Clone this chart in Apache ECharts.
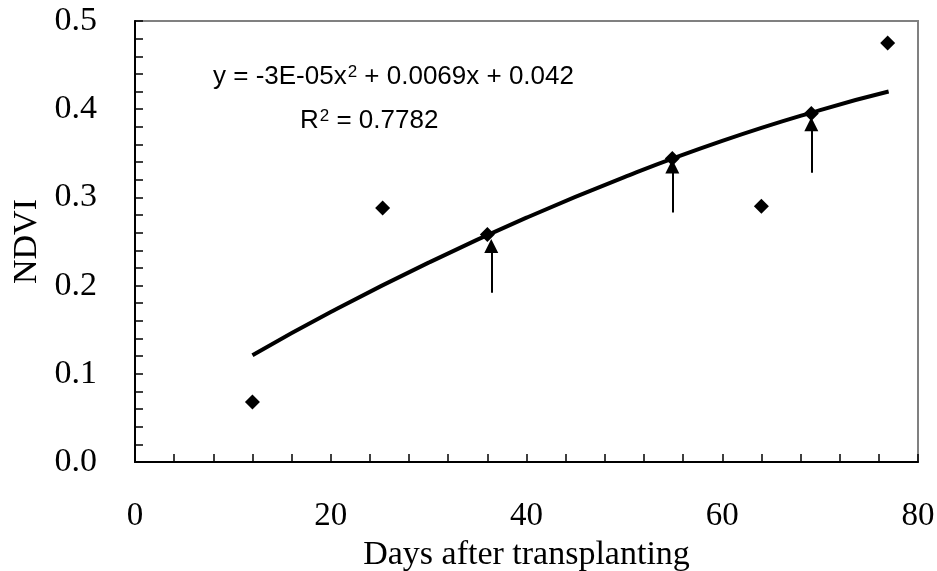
<!DOCTYPE html>
<html>
<head>
<meta charset="utf-8">
<script src="https://cdn.jsdelivr.net/npm/echarts@6/dist/echarts.min.js"></script>
<style>
  html, body { margin: 0; padding: 0; background: #fff; }
  #chart { width: 937px; height: 571px; }
</style>
</head>
<body>
<div id="chart"></div>
<script>
// measured NDVI points (days after transplanting, NDVI)
var days = [12, 25.3, 36, 54.9, 64, 69.1, 76.9];
var ndvi = [0.068, 0.288, 0.258, 0.344, 0.290, 0.395, 0.475];

// trend line
var trendDays = [12, 20, 30, 40, 50, 60, 70, 77];
var trendNdvi = [0.121, 0.170, 0.226, 0.277, 0.323, 0.364, 0.399, 0.420];

// arrows: x, start y, tip y
var arrowX = [36.4, 54.9, 69.1];
var arrowFrom = [0.192, 0.283, 0.328];
var arrowTo = [0.245, 0.335, 0.383];

var serif = '"Liberation Serif", "Times New Roman", serif';
var sans = '"Liberation Sans", Arial, sans-serif';

var chart = echarts.init(document.getElementById('chart'));

var arrows = arrowX.map(function (x, i) {
  return { coords: [[x, arrowFrom[i]], [x, arrowTo[i]]] };
});

var supStyle = { sup: { fontSize: 17, verticalAlign: 'top', lineHeight: 17, padding: [0, 0, 18, 1] } };

chart.setOption({
  animation: false,
  grid: {
    left: 135, right: 19, top: 21, bottom: 109,
    outerBoundsMode: 'none',
    show: true, borderColor: '#808080', borderWidth: 2
  },
  xAxis: {
    type: 'value', min: 0, max: 80, interval: 20,
    name: 'Days after transplanting',
    nameLocation: 'middle', nameGap: 72,
    nameTextStyle: { fontFamily: serif, fontSize: 34, color: '#000' },
    axisLine: { lineStyle: { color: '#000', width: 2 } },
    axisTick: { inside: true, length: 8, lineStyle: { color: '#000', width: 1.5 } },
    minorTick: { show: true, splitNumber: 5, length: 8, lineStyle: { color: '#000', width: 1.5 } },
    splitLine: { show: false },
    axisLabel: { fontFamily: serif, fontSize: 33, color: '#000', margin: 38 }
  },
  yAxis: {
    type: 'value', min: 0, max: 0.5, interval: 0.1,
    name: 'NDVI',
    nameLocation: 'middle', nameGap: 90,
    nameTextStyle: { fontFamily: serif, fontSize: 34, color: '#000' },
    axisLine: { lineStyle: { color: '#000', width: 2 } },
    axisTick: { inside: true, length: 8, lineStyle: { color: '#000', width: 1.5 } },
    minorTick: { show: true, splitNumber: 5, length: 8, lineStyle: { color: '#000', width: 1.5 } },
    splitLine: { show: false },
    axisLabel: {
      fontFamily: serif, fontSize: 34, color: '#000', margin: 38,
      formatter: function (v) { return v.toFixed(1); }
    }
  },
  graphic: [
    {
      type: 'text', x: 213, y: 77,
      style: {
        text: 'y = -3E-05x{sup|2} + 0.0069x + 0.042',
        font: '26px ' + sans, fill: '#000',
        align: 'left', verticalAlign: 'middle',
        rich: supStyle
      }
    },
    {
      type: 'text', x: 300, y: 121,
      style: {
        text: 'R{sup|2} = 0.7782',
        font: '26px ' + sans, fill: '#000',
        align: 'left', verticalAlign: 'middle',
        rich: supStyle
      }
    }
  ],
  series: [
    {
      type: 'line',
      data: trendDays.map(function (d, i) { return [d, trendNdvi[i]]; }),
      smooth: true, showSymbol: false,
      lineStyle: { color: '#000', width: 4 },
      z: 2
    },
    {
      type: 'scatter',
      data: days.map(function (d, i) { return [d, ndvi[i]]; }),
      symbol: 'diamond', symbolSize: [15, 15],
      itemStyle: { color: '#000', opacity: 1 },
      z: 3
    },
    {
      type: 'lines',
      coordinateSystem: 'cartesian2d',
      data: arrows,
      symbol: ['none', 'triangle'],
      symbolSize: 14,
      lineStyle: { color: '#000', width: 2, opacity: 1 },
      z: 4
    }
  ]
});
</script>
</body>
</html>
